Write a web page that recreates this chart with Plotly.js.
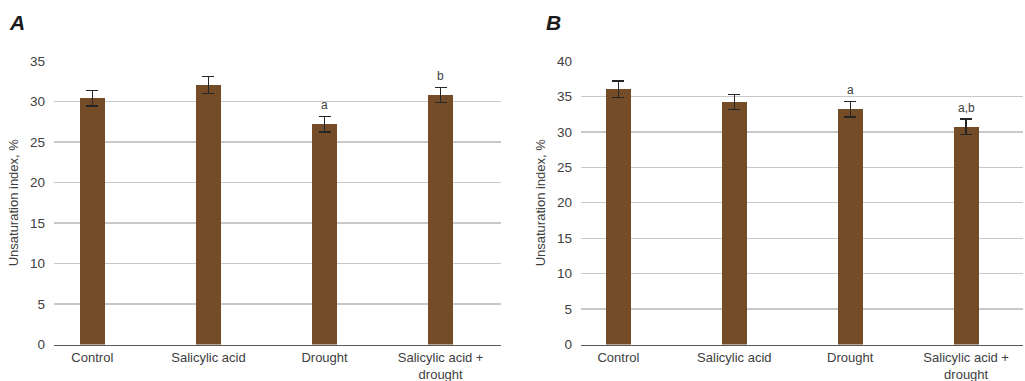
<!DOCTYPE html>
<html>
<head>
<meta charset="utf-8">
<script src="https://cdn.plot.ly/plotly-3.0.1.min.js"></script>
<style>html,body{margin:0;padding:0;background:#fff;}#chart{width:1025px;height:381px;}</style>
</head>
<body>
<div id="chart"></div>
<script>
const categories = ["Control", "Salicylic acid", "Drought", "Salicylic acid +<br>drought"];
const valuesA = [30.4, 32.0, 27.2, 30.8];
const errorsA = [0.95, 1.05, 0.95, 0.95];
const lettersA = ["", "", "a", "b"];
const valuesB = [36.0, 34.2, 33.2, 30.7];
const errorsB = [1.15, 1.05, 1.1, 1.1];
const lettersB = ["", "", "a", "a,b"];
const yTitle = "Unsaturation index, %";
const panelLabels = ["A", "B"];

const barColor = "#744c27";
const font = "Liberation Sans, Arial, sans-serif";
const idx = categories.map((_, i) => i);

function barTrace(vals, errs, xa, ya) {
  return {
    type: "bar", x: idx, y: vals, xaxis: xa, yaxis: ya,
    width: 0.215,
    marker: {color: barColor, line: {width: 0}},
    error_y: {type: "data", array: errs, visible: true, color: "#262626", thickness: 1.4, width: 6},
    hoverinfo: "skip", showlegend: false
  };
}

function letterAnns(vals, errs, letters, xref, yref) {
  const out = [];
  letters.forEach((t, i) => {
    if (!t) return;
    out.push({x: i, y: vals[i] + errs[i], xref: xref, yref: yref, text: t, showarrow: false,
      yanchor: "bottom", yshift: 2, font: {family: font, size: 12, color: "#404040"}});
  });
  return out;
}

const xCommon = {
  tickmode: "array", tickvals: idx, ticktext: categories,
  range: [-0.33, 3.52], showgrid: false, zeroline: false,
  showline: true, linecolor: "#595959", linewidth: 1.5,
  ticks: "", tickfont: {family: font, size: 13, color: "#404040"}, fixedrange: true
};
const yCommon = {
  showgrid: true, gridcolor: "#c8c8c8", gridwidth: 1.3, zeroline: false,
  ticks: "", ticklabelstandoff: 8, tickfont: {family: font, size: 13.5, color: "#404040"},
  title: {text: yTitle, font: {family: font, size: 13, color: "#404040"}, standoff: 8},
  domain: [0.0958, 0.840], dtick: 5, fixedrange: true
};

const layout = {
  width: 1025, height: 381,
  margin: {l: 0, r: 0, t: 0, b: 0},
  paper_bgcolor: "#fff", plot_bgcolor: "#fff",
  bargap: 0,
  xaxis: Object.assign({}, xCommon, {domain: [0.0527, 0.4888], anchor: "y"}),
  yaxis: Object.assign({}, yCommon, {range: [0, 35], anchor: "x"}),
  xaxis2: Object.assign({}, xCommon, {domain: [0.5668, 0.998], anchor: "y2", range: [-0.323, 3.49]}),
  yaxis2: Object.assign({}, yCommon, {range: [0, 40], anchor: "x2"}),
  annotations: [].concat(
    letterAnns(valuesA, errorsA, lettersA, "x", "y"),
    letterAnns(valuesB, errorsB, lettersB, "x2", "y2"),
    [
      {x: 7 / 1025, y: 1 - 22.5 / 381, xref: "paper", yref: "paper", xanchor: "left", yanchor: "middle",
        text: "<b><i>" + panelLabels[0] + "</i></b>", showarrow: false, font: {family: font, size: 21, color: "#1a1a1a"}},
      {x: 544 / 1025, y: 1 - 22.5 / 381, xref: "paper", yref: "paper", xanchor: "left", yanchor: "middle",
        text: "<b><i>" + panelLabels[1] + "</i></b>", showarrow: false, font: {family: font, size: 21, color: "#1a1a1a"}}
    ]
  )
};

Plotly.newPlot("chart", [barTrace(valuesA, errorsA, "x", "y"), barTrace(valuesB, errorsB, "x2", "y2")], layout, {displayModeBar: false, staticPlot: true});
</script>
</body>
</html>
